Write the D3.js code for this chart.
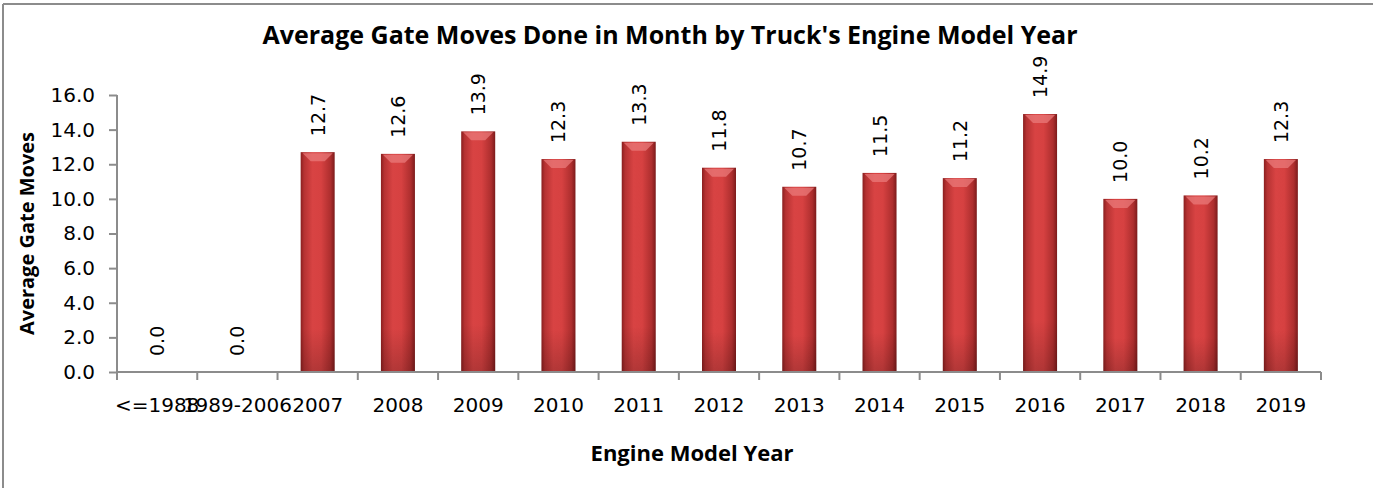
<!DOCTYPE html>
<html>
<head>
<meta charset="utf-8">
<script src="https://cdn.jsdelivr.net/npm/d3@7"></script>
<style>
  body { margin: 0; background: #fff; }
  svg { display: block; }
</style>
</head>
<body>
<div id="vis"></div>
<script>
// chart data
var categories = ["<=1988", "1989-2006", "2007", "2008", "2009", "2010", "2011", "2012",
                  "2013", "2014", "2015", "2016", "2017", "2018", "2019"];
var avgMoves = [0.0, 0.0, 12.7, 12.6, 13.9, 12.3, 13.3, 11.8, 10.7, 11.5, 11.2, 14.9, 10.0, 10.2, 12.3];
var yTicks = [0, 2, 4, 6, 8, 10, 12, 14, 16];

var w = 1373, h = 488;
var margin = { left: 117, right: 52, top: 95, bottom: 116 };

var rows = categories.map(function(c, i) { return { cat: c, v: avgMoves[i] }; });

var svg = d3.select("#vis").append("svg")
    .attr("width", w)
    .attr("height", h);

// outer frame (only top + left show in the picture)
svg.append("line").attr("x1", 3).attr("x2", w).attr("y1", 4).attr("y2", 4)
    .attr("stroke", "#8c8c8c").attr("stroke-width", 2);
svg.append("line").attr("x1", 3).attr("x2", 3).attr("y1", 4).attr("y2", h)
    .attr("stroke", "#8c8c8c").attr("stroke-width", 2);

var x = d3.scaleBand()
    .domain(categories)
    .range([margin.left, w - margin.right])
    .paddingInner(0)
    .paddingOuter(0);

var y = d3.scaleLinear()
    .domain([0, 16])
    .range([h - margin.bottom, margin.top]);

// gradients for the bars
var defs = svg.append("defs");
var g1 = defs.append("linearGradient").attr("id", "barGrad")
    .attr("x1", "0%").attr("x2", "100%").attr("y1", "0%").attr("y2", "0%");
[["0%", "#8a1f1f"], ["10%", "#b53232"], ["35%", "#d84343"], ["60%", "#d64141"],
 ["88%", "#ad2e2e"], ["100%", "#7c1b1b"]].forEach(function(s) {
    g1.append("stop").attr("offset", s[0]).attr("stop-color", s[1]);
});
var g2 = defs.append("linearGradient").attr("id", "barShade")
    .attr("x1", "0%").attr("x2", "0%").attr("y1", "0%").attr("y2", "100%");
[["0%", "#000", 0], ["80%", "#000", 0], ["100%", "#000", 0.18]].forEach(function(s) {
    g2.append("stop").attr("offset", s[0]).attr("stop-color", s[1]).attr("stop-opacity", s[2]);
});

var barW = 34;
function cx(d) { return x(d.cat) + x.bandwidth() / 2; }

var bars = svg.append("g").selectAll("g")
    .data(rows.filter(function(d) { return d.v > 0; }))
    .enter()
    .append("g");

bars.append("rect")
    .attr("x", function(d) { return cx(d) - barW / 2; })
    .attr("y", function(d) { return y(d.v); })
    .attr("width", barW)
    .attr("height", function(d) { return y(0) - y(d.v); })
    .attr("fill", "url(#barGrad)");

bars.append("rect")
    .attr("x", function(d) { return cx(d) - barW / 2; })
    .attr("y", function(d) { return y(d.v); })
    .attr("width", barW)
    .attr("height", function(d) { return y(0) - y(d.v); })
    .attr("fill", "url(#barShade)");

// bevel highlight on top of each bar
bars.append("path")
    .attr("d", function(d) {
        var c = cx(d), top = y(d.v);
        return "M" + (c - barW / 2 + 2) + "," + (top + 1) +
               "L" + (c + barW / 2 - 2) + "," + (top + 1) +
               "L" + (c + barW / 2 - 10) + "," + (top + 9) +
               "L" + (c - barW / 2 + 10) + "," + (top + 9) + "Z";
    })
    .attr("fill", "#ea7a7a")
    .attr("opacity", 0.75);

// value labels, rotated
svg.append("g").selectAll("text")
    .data(rows)
    .enter()
    .append("text")
    .attr("transform", function(d) {
        return "translate(" + (cx(d) + 7) + "," + (y(d.v) - 16) + ") rotate(-90)";
    })
    .attr("font-family", "DejaVu Sans")
    .attr("font-size", "19px")
    .attr("fill", "#000")
    .text(function(d) { return d.v.toFixed(1); });

// y axis
var yAxis = svg.append("g")
    .attr("transform", "translate(" + margin.left + ",0)")
    .call(d3.axisLeft(y).tickValues(yTicks).tickSize(8).tickPadding(14)
          .tickFormat(function(d) { return d.toFixed(1); }));
yAxis.select(".domain").attr("stroke", "#8c8c8c").attr("stroke-width", 2)
    .attr("d", "M0," + y(16) + "V" + y(0));
yAxis.selectAll(".tick line").attr("stroke", "#8c8c8c").attr("stroke-width", 2);
yAxis.selectAll(".tick text")
    .attr("font-family", "DejaVu Sans")
    .attr("font-size", "20px")
    .attr("fill", "#000");

// x axis
var xAxis = svg.append("g")
    .attr("transform", "translate(0," + y(0) + ")")
    .call(d3.axisBottom(x).tickSize(0).tickPadding(26));
xAxis.select(".domain").attr("stroke", "#8c8c8c").attr("stroke-width", 2)
    .attr("d", "M" + margin.left + ",0H" + (w - margin.right));
xAxis.selectAll(".tick text")
    .attr("font-family", "DejaVu Sans")
    .attr("font-size", "20px")
    .attr("fill", "#000");
// tick marks sit on the band edges
var edges = categories.map(function(c) { return x(c); }).concat([x.range()[1]]);
xAxis.selectAll(".edge")
    .data(edges)
    .enter()
    .append("line")
    .attr("x1", function(d) { return d; })
    .attr("x2", function(d) { return d; })
    .attr("y1", 0)
    .attr("y2", 8)
    .attr("stroke", "#8c8c8c")
    .attr("stroke-width", 2);

// titles
svg.append("text")
    .attr("x", 670)
    .attr("y", 44)
    .attr("text-anchor", "middle")
    .attr("font-family", "Open Sans")
    .attr("font-weight", "bold")
    .attr("font-size", "25px")
    .attr("fill", "#000")
    .text("Average Gate Moves Done in Month by Truck's Engine Model Year");

svg.append("text")
    .attr("x", 692)
    .attr("y", 461)
    .attr("text-anchor", "middle")
    .attr("font-family", "Open Sans")
    .attr("font-weight", "bold")
    .attr("font-size", "22px")
    .attr("fill", "#000")
    .text("Engine Model Year");

svg.append("text")
    .attr("transform", "translate(34," + ((y(0) + y(16)) / 2) + ") rotate(-90)")
    .attr("text-anchor", "middle")
    .attr("font-family", "Open Sans")
    .attr("font-weight", "bold")
    .attr("font-size", "20px")
    .attr("fill", "#000")
    .text("Average Gate Moves");
</script>
</body>
</html>
